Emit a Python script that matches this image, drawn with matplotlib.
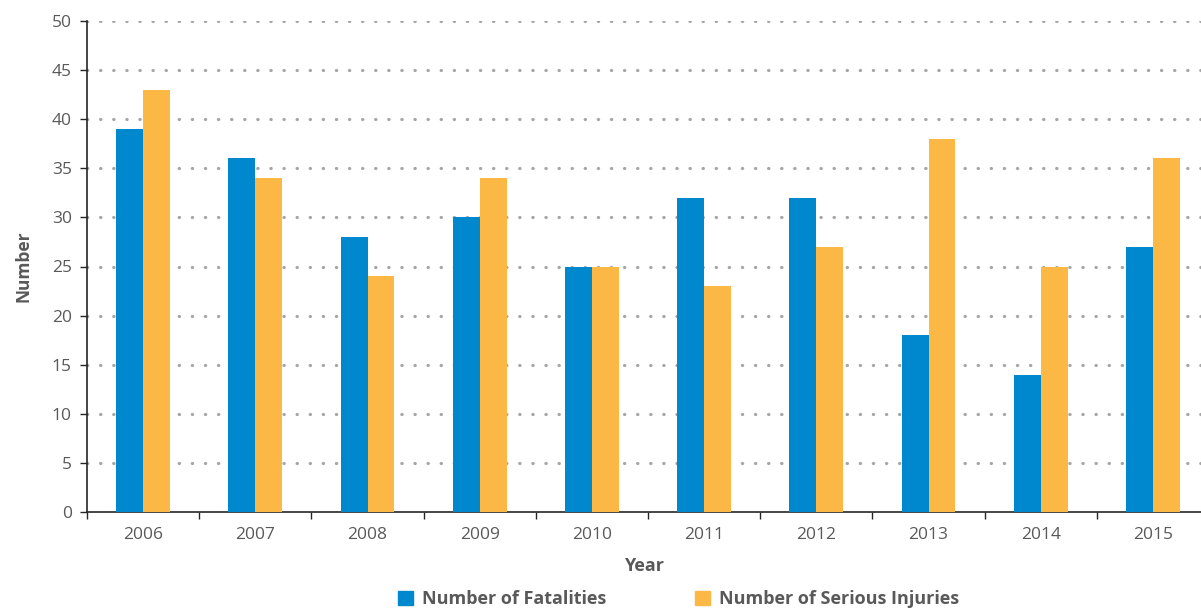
import matplotlib.pyplot as plt
import numpy as np
from matplotlib.patches import Patch

years = ['2006', '2007', '2008', '2009', '2010', '2011', '2012', '2013', '2014', '2015']
fatalities = [39, 36, 28, 30, 25, 32, 32, 18, 14, 27]
serious_injuries = [43, 34, 24, 34, 25, 23, 27, 38, 25, 36]

blue = '#0088CE'
orange = '#FBB845'
text_grey = '#595959'

plt.rcParams['font.family'] = ['Open Sans', 'DejaVu Sans']

fig = plt.figure(figsize=(12.01, 6.09), dpi=100)
ax = fig.add_axes([87 / 1201, 97 / 609, 1 - 87 / 1201, (512 - 21) / 609])

x = np.arange(len(years))
w = 0.24
ax.bar(x - w / 2, fatalities, width=w, color=blue, zorder=3)
ax.bar(x + w / 2, serious_injuries, width=w, color=orange, zorder=3)

ax.set_yticks(np.arange(0, 51, 5))
ax.set_xticks(x)
ax.set_xticklabels(years)
ax.set_xticks(np.arange(-0.5, len(years), 1), minor=True)
# limits after ticks so the minor ticks don't widen the view
ax.set_xlim(-0.5, -0.5 + (1201 - 87) / 112.2)
ax.set_ylim(0, 50)
ax.tick_params(axis='x', which='major', length=0, pad=11, labelsize=12.5, labelcolor=text_grey)
ax.tick_params(axis='x', which='minor', length=5, width=1, direction='out', color='#262626')
ax.tick_params(axis='y', length=5, width=1, direction='out', color='#262626', pad=6,
               labelsize=12.5, labelcolor=text_grey)

for s in ['top', 'right']:
    ax.spines[s].set_visible(False)
ax.spines['left'].set_color('#262626')
ax.spines['bottom'].set_color('#262626')
ax.spines['left'].set_linewidth(1.2)
ax.spines['bottom'].set_linewidth(1.2)

for v in np.arange(5, 51, 5):
    ax.axhline(v, color='#A6A6A6', linewidth=2.3, linestyle=(0, (0.1, 4.0)),
               dash_capstyle='round', zorder=1)

ax.set_ylabel('Number', fontsize=12.5, fontweight='bold', color=text_grey, labelpad=14)
ax.set_xlabel('Year', fontsize=13, fontweight='bold', color=text_grey, labelpad=10)

handles = [Patch(color=blue), Patch(color=orange)]
fig.legend(handles, ['Number of Fatalities', 'Number of Serious Injuries'],
           loc='center', bbox_to_anchor=(0.565, 0.016), ncol=2, frameon=False,
           prop={'size': 13, 'weight': 'bold'}, labelcolor=text_grey,
           handlelength=0.85, handleheight=0.85, handletextpad=0.5, columnspacing=4.9)

fig.savefig('out.png', dpi=100)
